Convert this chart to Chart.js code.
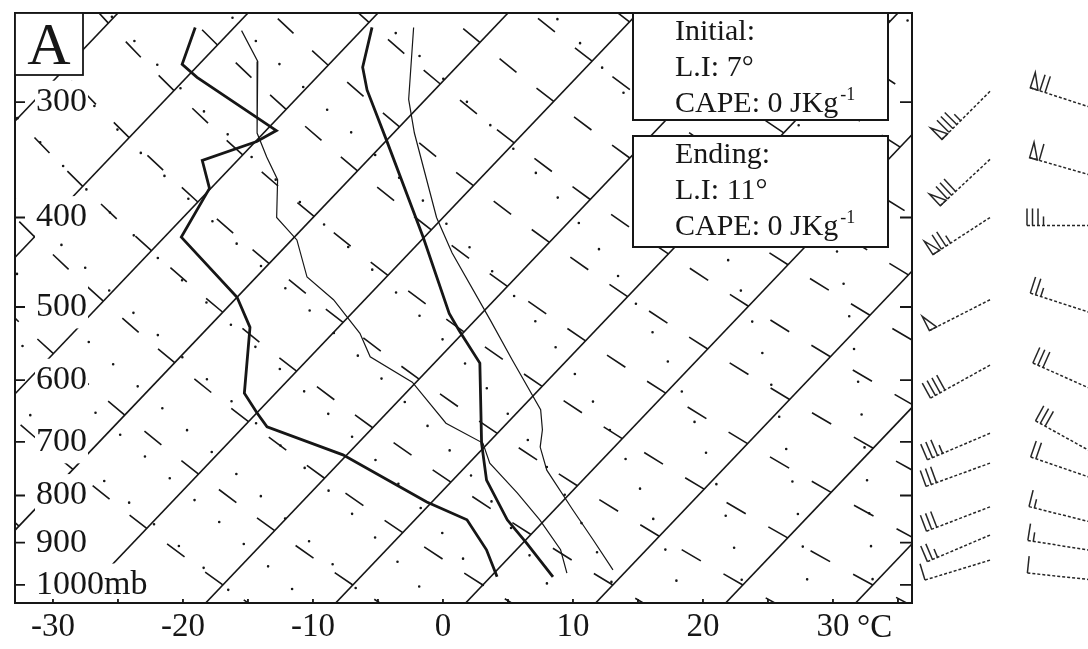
<!DOCTYPE html>
<html lang="en">
<head>
<meta charset="UTF-8">
<title>Skew-T A</title>
<script src="https://cdn.jsdelivr.net/npm/chart.js"></script>
<style>
    html, body { margin: 0; padding: 0; background: #ffffff; }
    #wrap { width: 1088px; height: 649px; }
</style>
</head>
<body>
<div id="wrap"><canvas id="skewt" width="1088" height="649"></canvas></div>
<script>
// axis ticks
const pressureTicks = [300, 400, 500, 600, 700, 800, 900, 1000];
const tempTicks = [-30, -20, -10, 0, 10, 20, 30];

// initial sounding (hPa, °C)
const initialP = [249, 275, 291, 330, 420, 508, 530, 575, 702, 770, 850, 901, 980];
const initialT = [-49.4, -47.2, -45.2, -40.0, -30.1, -22.5, -20.5, -16.5, -10.5, -7.4, -2.9, 0.3, 4.8];
const initialDewP = [249, 273, 282, 322, 331, 347, 372, 420, 488, 526, 620, 651, 674, 723, 813, 850, 916, 980];
const initialDew = [-63.0, -61.3, -59.2, -49.2, -49.9, -52.7, -50.1, -48.7, -40.0, -36.8, -32.4, -30.0, -28.2, -20.3, -10.4, -6.0, -2.3, 0.5];

// ending sounding (hPa, °C)
const endingP = [249, 298, 324, 400, 437, 516, 571, 646, 679, 709, 751, 829, 894, 963];
const endingT = [-46.2, -41.3, -38.4, -30.5, -26.7, -18.9, -14.2, -8.4, -6.8, -5.7, -3.5, 1.4, 5.2, 8.9];
const endingDewP = [251, 271, 324, 344, 364, 400, 423, 464, 491, 534, 566, 603, 668, 702, 738, 795, 850, 916, 971];
const endingDew = [-59.2, -55.7, -50.5, -48.0, -45.5, -42.8, -39.6, -36.1, -32.4, -27.9, -25.4, -20.3, -14.7, -10.4, -8.4, -4.1, -0.4, 3.4, 5.6];

// background lines
const isotherms = [-70, -60, -50, -40, -30, -20, -10, 0, 10, 20, 30];
const dryAdiabats = [-40, -30, -20, -10, 0, 10, 20, 30, 40, 50, 60, 70, 80, 90, 100, 110, 120, 130];
const moistAdiabats = [-20, -15, -10, -5, 0, 5, 10, 15, 20, 25, 30, 35];

// winds: pressure (hPa), direction (deg), speed (kt)
const leftWindP = [292, 346, 400, 491, 578, 685, 738, 823, 883, 940];
const leftWindDir = [225, 227, 237, 243, 241, 247, 250, 249, 247, 253];
const leftWindSpd = [85, 80, 75, 50, 40, 35, 30, 30, 25, 10];
const rightWindP = [305, 361, 408, 509, 616, 721, 768, 857, 919, 988];
const rightWindDir = [288, 286, 270, 288, 294, 299, 289, 284, 279, 276];
const rightWindSpd = [70, 60, 35, 25, 30, 30, 20, 15, 15, 10];

// stability boxes
const initialInfo = ['Initial:', 'L.I: 7°', 'CAPE: 0 JKg'];
const endingInfo = ['Ending:', 'L.I: 11°', 'CAPE: 0 JKg'];

const SKEW = 29.4;
const P_REF = 1110;
const P_TOP = 240.2;
const P_BOT = 1046;

function skewX(t, p) {
    return t + SKEW * Math.log(P_REF / p);
}

function profile(ps, ts) {
    return ps.map((p, i) => ({ x: skewX(ts[i], p), y: p }));
}

function dryP(t, theta) {
    return 1000 * Math.pow((t + 273.15) / (theta + 273.15), 1 / 0.2857);
}

// dashes along each dry adiabat, one per 5 °C
function dryDashes(theta) {
    const pts = [];
    for (let t = -100; t <= 45; t += 5) {
        const p0 = dryP(t, theta), p1 = dryP(t - 2.3, theta);
        if (p0 > 1080 || p1 < 220) continue;
        pts.push({ x: skewX(t, p0), y: p0 }, { x: skewX(t - 2.3, p1), y: p1 }, { x: null, y: null });
    }
    return pts;
}

// pseudo-adiabat from 1000 hPa wet-bulb temperature
function moistCurve(tw) {
    const Rd = 287.04, Cp = 1005.7, Lv = 2.501e6, eps = 0.622;
    const rate = (T, p) => {
        const es = 6.112 * Math.exp(17.67 * (T - 273.15) / (T - 29.65));
        const rs = eps * es / (p - es);
        return (Rd * T + Lv * rs) / (p * (Cp + Lv * Lv * rs * eps / (Rd * T * T)));
    };
    const run = (dp, stop) => {
        let T = tw + 273.15, p = 1000;
        const out = [];
        while (dp < 0 ? p > stop : p < stop) {
            const k1 = rate(T, p);
            const k2 = rate(T + k1 * dp / 2, p + dp / 2);
            T += k2 * dp;
            p += dp;
            out.push({ x: skewX(T - 273.15, p), y: p });
        }
        return out;
    };
    const down = run(5, 1070).reverse();
    return down.concat([{ x: skewX(tw, 1000), y: 1000 }], run(-5, 225));
}

const ink = '#161616';
const datasets = [];

datasets.push({ data: profile(initialP, initialT), borderWidth: 2.8, order: 0 });
datasets.push({ data: profile(initialDewP, initialDew), borderWidth: 2.8, order: 0 });
datasets.push({ data: profile(endingP, endingT), borderWidth: 1.2, order: 1 });
datasets.push({ data: profile(endingDewP, endingDew), borderWidth: 1.2, order: 1 });

isotherms.forEach(t => {
    datasets.push({
        data: [{ x: skewX(t, 220), y: 220 }, { x: skewX(t, 1080), y: 1080 }],
        borderWidth: 1.6, order: 5
    });
});

dryAdiabats.forEach(th => {
    datasets.push({ data: dryDashes(th), borderWidth: 1.6, spanGaps: false, order: 6 });
});

moistAdiabats.forEach(tw => {
    datasets.push({
        data: moistCurve(tw), borderWidth: 2.6, borderDash: [0, 33],
        borderCapStyle: 'round', order: 7
    });
});

datasets.forEach(d => {
    d.showLine = true;
    d.pointRadius = 0;
    d.pointHoverRadius = 0;
    d.borderColor = ink;
    d.tension = 0;
});

function drawBarb(ctx, sx, sy, dir, speed, len) {
    const a = dir * Math.PI / 180;
    const ux = Math.sin(a), uy = -Math.cos(a);
    const bx = -uy, by = ux;
    const tx = sx + ux * len, ty = sy + uy * len;
    ctx.save();
    ctx.strokeStyle = '#262626';
    ctx.lineWidth = 1.5;
    ctx.setLineDash([3, 2]);
    ctx.beginPath();
    ctx.moveTo(sx, sy);
    ctx.lineTo(tx, ty);
    ctx.stroke();
    ctx.setLineDash([]);
    let rest = Math.round(speed / 5) * 5;
    let d = 0;
    while (rest >= 50) {
        const x0 = tx - ux * d, y0 = ty - uy * d;
        const x1 = tx - ux * (d + 8), y1 = ty - uy * (d + 8);
        ctx.beginPath();
        ctx.moveTo(x0, y0);
        ctx.lineTo(x0 + bx * 16, y0 + by * 16);
        ctx.lineTo(x1, y1);
        ctx.closePath();
        ctx.stroke();
        d += 10;
        rest -= 50;
    }
    while (rest >= 5) {
        const l = rest >= 10 ? 17 : 9;
        const x0 = tx - ux * d, y0 = ty - uy * d;
        ctx.beginPath();
        ctx.moveTo(x0, y0);
        ctx.lineTo(x0 + bx * l, y0 + by * l);
        ctx.stroke();
        d += 5.5;
        rest -= rest >= 10 ? 10 : 5;
    }
    ctx.restore();
}

function drawInfoBox(ctx, x, y, w, h, lines) {
    ctx.fillStyle = '#ffffff';
    ctx.fillRect(x, y, w, h);
    ctx.strokeStyle = ink;
    ctx.lineWidth = 2;
    ctx.strokeRect(x, y, w, h);
    ctx.fillStyle = ink;
    ctx.textAlign = 'left';
    ctx.textBaseline = 'alphabetic';
    lines.forEach((s, i) => {
        const by = y + 27 + i * 36;
        ctx.font = '30px "Liberation Serif", serif';
        ctx.fillText(s, x + 42, by);
        if (i === 2) {
            const w2 = ctx.measureText(s).width;
            ctx.font = '18px "Liberation Serif", serif';
            ctx.fillText('-1', x + 44 + w2, by - 12);
        }
    });
}

const decor = {
    id: 'decor',
    afterDraw(chart) {
        const { ctx, chartArea: a, scales } = chart;
        const ys = scales.y, xs = scales.x;
        ctx.save();
        ctx.strokeStyle = ink;
        ctx.lineWidth = 2;
        ctx.strokeRect(a.left, a.top, a.right - a.left, a.bottom - a.top);

        // pressure ticks on both sides
        ctx.lineWidth = 1.8;
        pressureTicks.forEach(p => {
            const y = ys.getPixelForValue(p);
            ctx.beginPath();
            ctx.moveTo(a.left, y); ctx.lineTo(a.left + 10, y);
            ctx.moveTo(a.right, y); ctx.lineTo(a.right - 12, y);
            ctx.stroke();
        });
        // small temperature ticks
        for (let t = -30; t <= 35; t += 5) {
            const x = xs.getPixelForValue(t);
            ctx.beginPath();
            ctx.moveTo(x, a.bottom); ctx.lineTo(x, a.bottom - 4);
            ctx.stroke();
        }

        // panel letter
        ctx.fillStyle = '#ffffff';
        ctx.fillRect(a.left, a.top, 68, 62);
        ctx.strokeRect(a.left, a.top, 68, 62);
        ctx.fillStyle = ink;
        ctx.font = '60px "Liberation Serif", serif';
        ctx.textAlign = 'center';
        ctx.textBaseline = 'alphabetic';
        ctx.fillText('A', a.left + 34, a.top + 51);

        drawInfoBox(ctx, 633, a.top, 255, 107, initialInfo);
        drawInfoBox(ctx, 633, 136, 255, 111, endingInfo);

        // unit after last tick label
        ctx.fillStyle = ink;
        ctx.font = '33px "Liberation Serif", serif';
        ctx.textAlign = 'left';
        ctx.textBaseline = 'middle';
        ctx.fillText('°C', xs.getPixelForValue(30) + 24, a.bottom + 25);

        // wind barbs
        leftWindP.forEach((p, i) => drawBarb(ctx, 990, ys.getPixelForValue(p), leftWindDir[i], leftWindSpd[i], 68));
        rightWindP.forEach((p, i) => drawBarb(ctx, 1095, ys.getPixelForValue(p), rightWindDir[i], rightWindSpd[i], 68));
        ctx.restore();
    }
};

new Chart(document.getElementById('skewt'), {
    type: 'scatter',
    data: { datasets },
    options: {
        responsive: false,
        devicePixelRatio: 1,
        animation: false,
        events: [],
        layout: { padding: { left: 15, top: 13, right: 176, bottom: 0 } },
        plugins: { legend: { display: false }, tooltip: { enabled: false } },
        scales: {
            x: {
                type: 'linear',
                position: 'bottom',
                min: -32.92,
                max: 36.08,
                grid: { display: false, drawTicks: false },
                border: { display: false },
                afterBuildTicks: s => { s.ticks = tempTicks.map(v => ({ value: v })); },
                afterFit: s => { s.height = 46; s.paddingLeft = 0; s.paddingRight = 0; },
                ticks: {
                    autoSkip: false,
                    maxRotation: 0,
                    padding: 5,
                    color: ink,
                    font: { family: '"Liberation Serif", serif', size: 33 },
                    callback: v => String(v)
                }
            },
            y: {
                type: 'logarithmic',
                position: 'left',
                reverse: true,
                min: P_TOP,
                max: P_BOT,
                grid: { display: false, drawTicks: false },
                border: { display: false },
                afterBuildTicks: s => { s.ticks = pressureTicks.map(v => ({ value: v })); },
                afterFit: s => { s.width = 0; s.paddingTop = 0; s.paddingBottom = 0; },
                ticks: {
                    mirror: true,
                    z: 1,
                    padding: 21,
                    color: ink,
                    showLabelBackdrop: true,
                    backdropColor: '#ffffff',
                    backdropPadding: 1,
                    font: { family: '"Liberation Serif", serif', size: 34 },
                    callback: v => (v === 1000 ? '1000mb' : String(v))
                }
            }
        }
    },
    plugins: [decor]
});
</script>
</body>
</html>
